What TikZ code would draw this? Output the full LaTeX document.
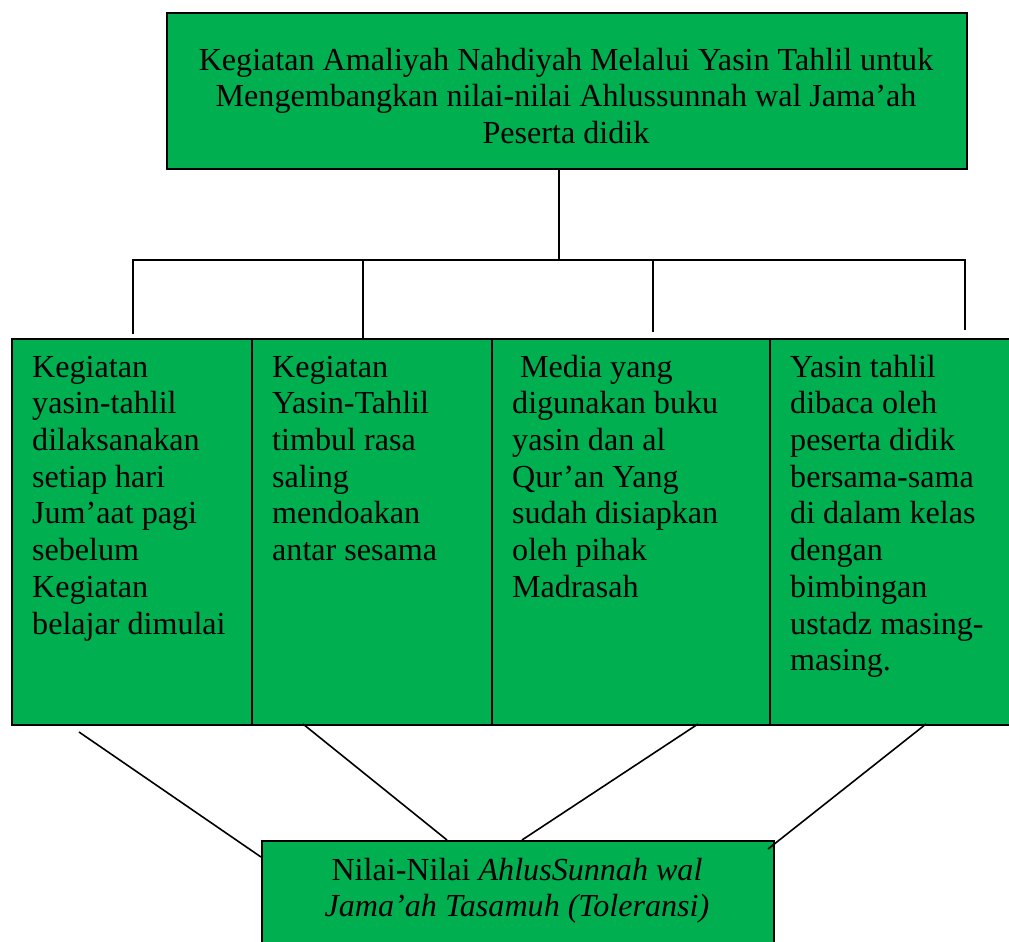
\documentclass[tikz,border=0pt]{standalone}
\usepackage{fontspec}
\setmainfont{Liberation Serif}
\definecolor{boxgreen}{HTML}{00B050}
\begin{document}
\begin{tikzpicture}[x=1pt,y=-1pt,
  gbox/.style={draw=black,line width=1.6pt,fill=boxgreen,rectangle,inner sep=0pt,anchor=north west},
  txt/.style={inner sep=0pt,font=\fontsize{32.1}{36.7}\selectfont},
  conn/.style={draw=black,line width=1.6pt}]
\useasboundingbox (0,0) rectangle (1009,942);
\clip (0,0) rectangle (1009,942);
% boxes
\node[gbox,minimum width=800pt,minimum height=156pt] (top) at (166,12) {};
\node[gbox,minimum width=240pt,minimum height=386pt] (b1) at (11,338) {};
\node[gbox,minimum width=240pt,minimum height=386pt] (b2) at (251,338) {};
\node[gbox,minimum width=278pt,minimum height=386pt] (b3) at (491,338) {};
\node[gbox,minimum width=250pt,minimum height=386pt] (b4) at (769,338) {};
\node[gbox,minimum width=512pt,minimum height=120pt] (bot) at (261,840) {};
% texts
\node[txt,align=center,anchor=north] (ttop) at (566,44.3) {\strut Kegiatan Amaliyah Nahdiyah Melalui Yasin Tahlil untuk\\Mengembangkan nilai-nilai Ahlussunnah wal Jama’ah\\Peserta didik};
\node[txt,align=left,anchor=north west] (t1) at (32,351.3) {\strut Kegiatan\\yasin-tahlil\\dilaksanakan\\setiap hari\\Jum’aat pagi\\sebelum\\Kegiatan\\belajar dimulai};
\node[txt,align=left,anchor=north west] (t2) at (272,351.3) {\strut Kegiatan\\Yasin-Tahlil\\timbul rasa\\saling\\mendoakan\\antar sesama};
\node[txt,align=left,anchor=north west] (t3) at (512,351.3) {\strut\hspace*{8pt}Media yang\\digunakan buku\\yasin dan al\\Qur’an Yang\\sudah disiapkan\\oleh pihak\\Madrasah};
\node[txt,align=left,anchor=north west] (t4) at (790,351.3) {\strut Yasin tahlil\\dibaca oleh\\peserta didik\\bersama-sama\\di dalam kelas\\dengan\\bimbingan\\ustadz masing-\\masing.};
\node[txt,align=center,anchor=north] (tbot) at (517,854.3) {\strut Nilai-Nilai \textit{AhlusSunnah wal}\\\textit{Jama’ah Tasamuh (Toleransi)}};
% connector points
\coordinate (hub) at (559,260);
\coordinate (hl) at (133,260);
\coordinate (hr) at (965,260);
\coordinate (h2) at (363,260);
\coordinate (h3) at (653,260);
\coordinate (e1) at (133,334);
\coordinate (e2) at (363,338);
\coordinate (e3) at (653,332);
\coordinate (e4) at (965,330);
\coordinate (d1a) at (79,732);
\coordinate (d1b) at (261,857);
\coordinate (d2a) at (303,724);
\coordinate (d2b) at (447,840);
\coordinate (d3a) at (698,724);
\coordinate (d3b) at (522,840);
\coordinate (d4a) at (926,724);
\coordinate (d4b) at (768,849);
% connectors
\draw[conn] (top.south -| hub) -- (hub);
\draw[conn] (e1) -- (hl) -- (hr) -- (e4);
\draw[conn] (h2) -- (e2);
\draw[conn] (h3) -- (e3);
\draw[conn] (d1a) -- (d1b);
\draw[conn] (d2a) -- (d2b);
\draw[conn] (d3a) -- (d3b);
\draw[conn] (d4a) -- (d4b);
\end{tikzpicture}
\end{document}
